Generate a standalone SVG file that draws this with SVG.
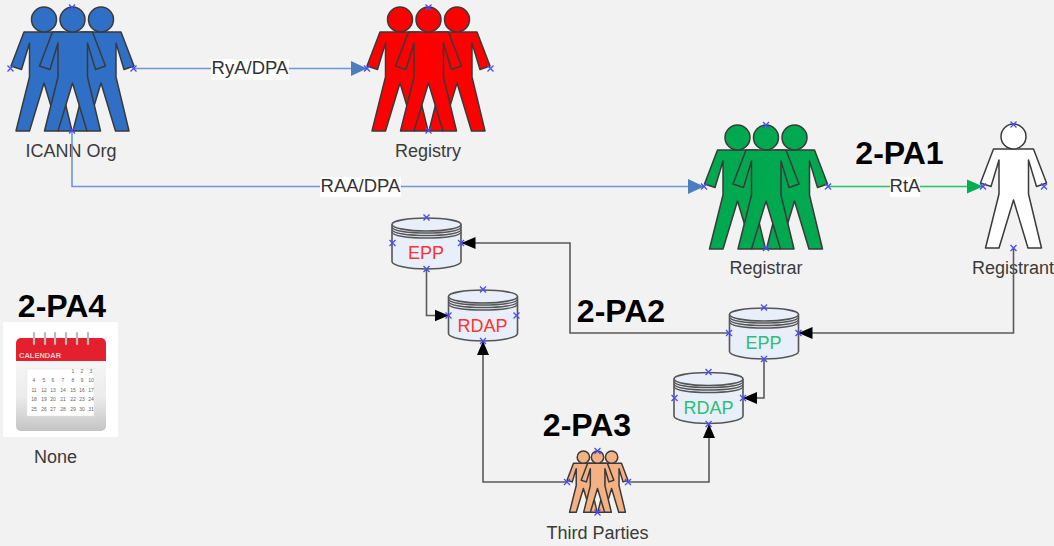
<svg xmlns="http://www.w3.org/2000/svg" xmlns:xlink="http://www.w3.org/1999/xlink" width="1054" height="546" viewBox="0 0 1054 546">
<style>
text{font-family:"Liberation Sans",Arial,sans-serif}
.lbl{font-size:18px;fill:#3a3a3a;text-anchor:middle}
.clbl{font-size:18.5px;fill:#333;text-anchor:middle}
.db{font-size:18px;text-anchor:middle}
.big{font-size:32px;font-weight:bold;fill:#000;text-anchor:middle}
.fig{stroke:#3a3a3a;stroke-width:1.5;stroke-linejoin:round;vector-effect:non-scaling-stroke}
.cyl{fill:#e9eff8;stroke:#555;stroke-width:1.6}
.rim{fill:none;stroke:#555;stroke-width:1.3}
.c{fill:none;stroke-width:1.6}
.blue{stroke:#6f96cf}
.green{stroke:#22c46e}
.black{stroke:#5a5a5a}
.x{stroke:#4a4aff;stroke-width:1.3;fill:none}
.lb{fill:#fff}
.cn{font-size:5px;fill:#666;text-anchor:middle}
</style>
<defs>
<linearGradient id="paper" x1="0" y1="0" x2="0" y2="1"><stop offset="0" stop-color="#fafafa"/><stop offset="0.6" stop-color="#ececec"/><stop offset="1" stop-color="#c4c4c4"/></linearGradient>
<marker id="ab" markerUnits="userSpaceOnUse" markerWidth="17" markerHeight="16" refX="16" refY="8" orient="auto"><path d="M0,0.5L16,8L0,15.5Z" fill="#4a7ebf"/></marker>
<marker id="ag" markerUnits="userSpaceOnUse" markerWidth="17" markerHeight="16" refX="16" refY="8" orient="auto"><path d="M0,1L16,8L0,15Z" fill="#00b050"/></marker>
<marker id="ak" markerUnits="userSpaceOnUse" markerWidth="15" markerHeight="14" refX="14" refY="7" orient="auto"><path d="M0,1L14,7L0,13Z" fill="#000"/></marker>
<g id="person"><path class="fig" d="M-20,32L-33,66L-22.5,69.5L-14.5,43V77L-28,131H-14.5L0,83L14.5,131H28L15,77V43L23,69.5L33,66L20,32Z"/><circle class="fig" cx="0" cy="19.5" r="12.5"/></g>
<g id="trio"><use xlink:href="#person" x="-28.5"/><use xlink:href="#person" x="28.5"/><use xlink:href="#person"/></g>
<g id="cyl"><path class="cyl" d="M-34.5,7V44C-34.5,48 -18,51.5 0,51.5S34.5,48 34.5,44V7"/><ellipse class="cyl" cx="0" cy="7" rx="34.5" ry="6.5"/><path class="rim" d="M-34.5,9.5C-34.5,13.5 -18,15.5 0,15.5S34.5,13.5 34.5,9.5M-34.5,12C-34.5,16 -18,18 0,18S34.5,16 34.5,12M-34.5,14.5C-34.5,18.5 -18,20.5 0,20.5S34.5,18.5 34.5,14.5"/></g>
<path id="xm" d="M-3,-3L3,3M-3,3L3,-3"/>
</defs>
<rect width="1054" height="546" fill="#f2f2f2"/>

<g id="icann-org"><use xlink:href="#trio" transform="translate(72.5,0)" fill="#2f70c6"/><text class="lbl" x="71" y="157">ICANN Org</text></g>
<g id="registry"><use xlink:href="#trio" transform="translate(428.5,0)" fill="#ff0000"/><text class="lbl" x="428" y="157">Registry</text></g>
<g id="registrar"><use xlink:href="#trio" transform="translate(766,118)" fill="#00a84f"/><text class="lbl" x="766" y="274">Registrar</text></g>
<g id="registrant"><use xlink:href="#person" transform="translate(1013.5,117)" fill="#fff"/><text class="lbl" x="1013" y="274">Registrant</text></g>
<g id="third-parties"><use xlink:href="#trio" transform="translate(597.5,447.5) scale(0.495)" fill="#f4b183"/><text class="lbl" x="597.5" y="539">Third Parties</text></g>
<g id="epp-registry"><use xlink:href="#cyl" transform="translate(426.5,217.5)"/><text class="db" x="426" y="259" fill="#ff3333">EPP</text></g>
<g id="rdap-registry"><use xlink:href="#cyl" transform="translate(483,289.5)"/><text class="db" x="482.5" y="332" fill="#ff3333">RDAP</text></g>
<g id="epp-registrar"><use xlink:href="#cyl" transform="translate(764,307.5)"/><text class="db" x="763.5" y="349" fill="#2fbd7a">EPP</text></g>
<g id="rdap-registrar"><use xlink:href="#cyl" transform="translate(708.5,372)"/><text class="db" x="708.5" y="414" fill="#2fbd7a">RDAP</text></g>
<g id="calendar">
<rect x="3" y="322" width="115" height="115" fill="#fff"/>
<rect x="16" y="345" width="90" height="86" rx="5" fill="url(#paper)"/>
<path d="M16,361V343a5,5 0 0 1 5,-5H101a5,5 0 0 1 5,5V361Z" fill="#e5202e"/>
<path d="M34,333V344M45,333V344M55,333V344M66,333V344M77,333V344M88,333V344" stroke="#b9b9b9" stroke-width="2.2" stroke-linecap="round"/>
<text x="19" y="358" font-size="7.5" font-weight="bold" fill="#f6c9c9">CALENDAR</text>
<rect x="27" y="369" width="67" height="47" fill="#fff" stroke="#e2e2e2" stroke-width="0.5"/>
<g class="cn">
<text x="73" y="373">1</text><text x="82" y="373">2</text><text x="91" y="373">3</text>
<text x="34" y="382">4</text><text x="44" y="382">5</text><text x="53" y="382">6</text><text x="63" y="382">7</text><text x="73" y="382">8</text><text x="82" y="382">9</text><text x="91" y="382">10</text>
<text x="34" y="392">11</text><text x="44" y="392">12</text><text x="53" y="392">13</text><text x="63" y="392">14</text><text x="73" y="392">15</text><text x="82" y="392">16</text><text x="91" y="392">17</text>
<text x="34" y="401">18</text><text x="44" y="401">19</text><text x="53" y="401">20</text><text x="63" y="401">21</text><text x="73" y="401">22</text><text x="82" y="401">23</text><text x="91" y="401">24</text>
<text x="34" y="411">25</text><text x="44" y="411">26</text><text x="53" y="411">27</text><text x="63" y="411">28</text><text x="73" y="411">29</text><text x="82" y="411">30</text><text x="91" y="411">31</text>
</g>
</g>
<text class="lbl" x="55.5" y="463">None</text>
<text class="big" x="899.5" y="164">2-PA1</text>
<text class="big" x="621" y="322">2-PA2</text>
<text class="big" x="587" y="436">2-PA3</text>
<text class="big" x="62" y="317">2-PA4</text>

<g id="connectors">
<path class="c blue" d="M134,68.5H367" marker-end="url(#ab)"/>
<path class="c blue" d="M72,131V186.5H704" marker-end="url(#ab)"/>
<path class="c green" d="M828,186.5H983" marker-end="url(#ag)"/>
<path class="c black" d="M1013.5,248V333H798.5" marker-end="url(#ak)"/>
<path class="c black" d="M729,333H570V243H461.5" marker-end="url(#ak)"/>
<path class="c black" d="M764,359V398H743" marker-end="url(#ak)"/>
<path class="c black" d="M426.5,269V315.5H448.5" marker-end="url(#ak)"/>
<path class="c black" d="M567,482H483V341" marker-end="url(#ak)"/>
<path class="c black" d="M628,482H709V424" marker-end="url(#ak)"/>
<rect class="lb" x="211" y="59" width="78" height="21"/><text class="clbl" x="250" y="74">RyA/DPA</text>
<rect class="lb" x="320" y="177" width="81" height="20"/><text class="clbl" x="360.5" y="192">RAA/DPA</text>
<rect class="lb" x="890" y="177" width="30" height="20"/><text class="clbl" x="905" y="192">RtA</text>
</g>

<g id="connection-sites" class="x">
<use xlink:href="#xm" x="10.5" y="68.5"/><use xlink:href="#xm" x="133.5" y="68.5"/><use xlink:href="#xm" x="72" y="7.5"/><use xlink:href="#xm" x="72" y="130.5"/>
<use xlink:href="#xm" x="367" y="68.5"/><use xlink:href="#xm" x="490.5" y="68.5"/><use xlink:href="#xm" x="428.5" y="7.5"/><use xlink:href="#xm" x="428.5" y="130.5"/>
<use xlink:href="#xm" x="704" y="186.5"/><use xlink:href="#xm" x="828" y="186.5"/><use xlink:href="#xm" x="766" y="125"/><use xlink:href="#xm" x="766" y="248"/>
<use xlink:href="#xm" x="983" y="186.5"/><use xlink:href="#xm" x="1044" y="186.5"/><use xlink:href="#xm" x="1013.5" y="124.5"/><use xlink:href="#xm" x="1013.5" y="248"/>
<use xlink:href="#xm" x="567" y="482"/><use xlink:href="#xm" x="628" y="482"/><use xlink:href="#xm" x="597.5" y="451"/><use xlink:href="#xm" x="597.5" y="512.5"/>
<use xlink:href="#xm" x="392.5" y="243"/><use xlink:href="#xm" x="461" y="243"/><use xlink:href="#xm" x="426.5" y="217.5"/><use xlink:href="#xm" x="426.5" y="269"/>
<use xlink:href="#xm" x="448.5" y="315.5"/><use xlink:href="#xm" x="516.5" y="315.5"/><use xlink:href="#xm" x="483" y="289.5"/><use xlink:href="#xm" x="483" y="341"/>
<use xlink:href="#xm" x="729" y="333"/><use xlink:href="#xm" x="798.5" y="333"/><use xlink:href="#xm" x="764" y="307.5"/><use xlink:href="#xm" x="764" y="359"/>
<use xlink:href="#xm" x="674.5" y="398"/><use xlink:href="#xm" x="743" y="398"/><use xlink:href="#xm" x="708.5" y="372"/><use xlink:href="#xm" x="708.5" y="424"/>
</g>
</svg>
